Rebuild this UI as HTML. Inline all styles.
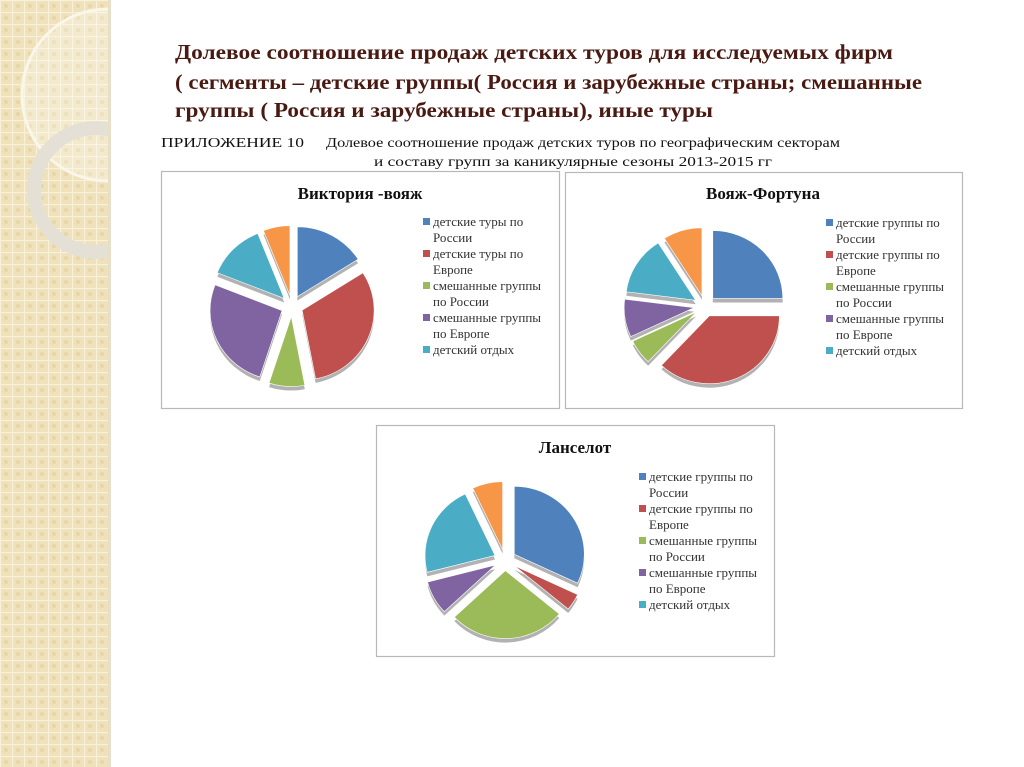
<!DOCTYPE html>
<html><head><meta charset="utf-8"><style>
html,body{margin:0;padding:0;background:#fff}
svg{display:block}
text{font-family:"Liberation Serif",serif}
</style></head><body>
<svg id="root" width="1024" height="767" viewBox="0 0 1024 767" xmlns="http://www.w3.org/2000/svg">
<defs>
<pattern id="grid" width="12" height="12" patternUnits="userSpaceOnUse">
<rect width="12" height="12" fill="#efe2bb"/>
<path d="M0 0.5H12M0.5 0V12" stroke="#f8f0d8" stroke-width="1.2"/>
<circle cx="6" cy="6" r="2" fill="#e6d6a8"/>
</pattern>
<clipPath id="strip"><rect x="0" y="0" width="110" height="767"/></clipPath>
</defs>
<g>
<rect x="0" y="0" width="110" height="767" fill="url(#grid)"/>
<g clip-path="url(#strip)">
<circle cx="108" cy="95" r="86" fill="rgba(255,255,255,0.25)" stroke="#faf6ea" stroke-width="3"/>
<circle cx="96" cy="190" r="62" fill="none" stroke="#e4e0d6" stroke-width="14"/>
</g>
<rect x="108" y="0" width="3" height="767" fill="#e8dfc8"/>
</g>
<g fill="#4a1a12" font-weight="bold" font-size="21">
<text x="175" y="59" textLength="718" lengthAdjust="spacingAndGlyphs">Долевое  соотношение  продаж детских туров  для исследуемых фирм</text>
<text x="175" y="89" textLength="747" lengthAdjust="spacingAndGlyphs">( сегменты – детские группы( Россия и зарубежные страны; смешанные</text>
<text x="175" y="117" textLength="538" lengthAdjust="spacingAndGlyphs">группы ( Россия и зарубежные  страны), иные туры</text>
</g>
<g fill="#111" font-size="14">
<text x="161" y="147" textLength="143" lengthAdjust="spacingAndGlyphs">ПРИЛОЖЕНИЕ 10</text>
<text x="326" y="147" textLength="514" lengthAdjust="spacingAndGlyphs">Долевое соотношение продаж детских туров по географическим секторам</text>
<text x="374" y="166" textLength="398" lengthAdjust="spacingAndGlyphs">и составу групп за  каникулярные сезоны  2013-2015 гг</text>
</g>
<g id="charts"></g>
</svg>
<script>
const colors=["#4F81BD","#C0504D","#9BBB59","#8064A2","#4BACC6","#F79646"];
const victoriaLabels=[["детские туры по","России"],["детские туры по","Европе"],["смешанные группы","по России"],["смешанные группы","по Европе"],["детский отдых"]];
const groupLabels=[["детские группы по","России"],["детские группы по","Европе"],["смешанные группы","по России"],["смешанные группы","по Европе"],["детский отдых"]];
const victoriaValues=[16,31,8,26,13,6];
const fortunaValues=[25,37,6,9,14,9];
const lancelotValues=[32,4,27,8,22,7];
const charts=[
 {name:"victoria-voyage",title:"Виктория -вояж",values:victoriaValues,labels:victoriaLabels,box:[161,171,398,237],cx:292,cy:306,r:72,tx:360,ty:199,lx:424,ly:226},
 {name:"voyage-fortuna",title:"Вояж-Фортуна",values:fortunaValues,labels:groupLabels,box:[565,172,397,236],cx:705,cy:306,r:70,tx:763,ty:199,lx:827,ly:227},
 {name:"lancelot",title:"Ланселот",values:lancelotValues,labels:groupLabels,box:[376,425,398,231],cx:505,cy:560,r:70,tx:575,ty:453,lx:640,ly:481}
];
const NS="http://www.w3.org/2000/svg";
const root=document.getElementById("charts");
function mk(tag,attrs,parent){const e=document.createElementNS(NS,tag);for(const k in attrs)e.setAttribute(k,attrs[k]);parent.appendChild(e);return e;}
charts.forEach(c=>{
 const g=mk("g",{},root);
 
 
 const b=mk("rect",{x:c.box[0]+0.5,y:c.box[1]+0.5,width:c.box[2],height:c.box[3],fill:"#fff",stroke:"#b8b8b8","stroke-width":1.2},g);
 
 
 const t=mk("text",{x:c.tx,y:c.ty,"text-anchor":"middle","font-size":17,"font-weight":"bold",fill:"#111"},g);
 t.textContent=c.title;
 
 
 const total=c.values.reduce((a,b)=>a+b,0);
 let a0=-Math.PI/2;
 const ex=11, sy=0.97;
 c.values.forEach((v,i)=>{
  const a1=a0+v/total*2*Math.PI, am=(a0+a1)/2;
  const ox=c.cx+ex*Math.cos(am), oy=c.cy+ex*Math.sin(am)*sy;
  const p=(a)=>[ox+c.r*Math.cos(a), oy+c.r*Math.sin(a)*sy];
  const s=p(a0), e=p(a1), large=(a1-a0)>Math.PI?1:0;
  const d=mk("path",{d:`M${ox},${oy+4}L${s[0]},${s[1]+4}A${c.r},${c.r*sy} 0 ${large} 1 ${e[0]},${e[1]+4}Z`,fill:"#555",opacity:0.45},g);
  
  
  const sl=mk("path",{d:`M${ox},${oy}L${s[0]},${s[1]}A${c.r},${c.r*sy} 0 ${large} 1 ${e[0]},${e[1]}Z`,fill:colors[i],stroke:"#fff","stroke-width":0.6},g);
  
  
  a0=a1;
 });
 let y=c.ly;
 c.labels.forEach((lab,i)=>{
  const m=mk("rect",{x:c.lx-1,y:y-8,width:7,height:7,fill:colors[i]},g);
  
  
  lab.forEach(line=>{
   const tx=mk("text",{x:c.lx+9,y:y,"font-size":13,fill:"#333"},g);
   tx.textContent=line;
   
   
   y+=16;
  });
 });
});
</script>
</body></html>
